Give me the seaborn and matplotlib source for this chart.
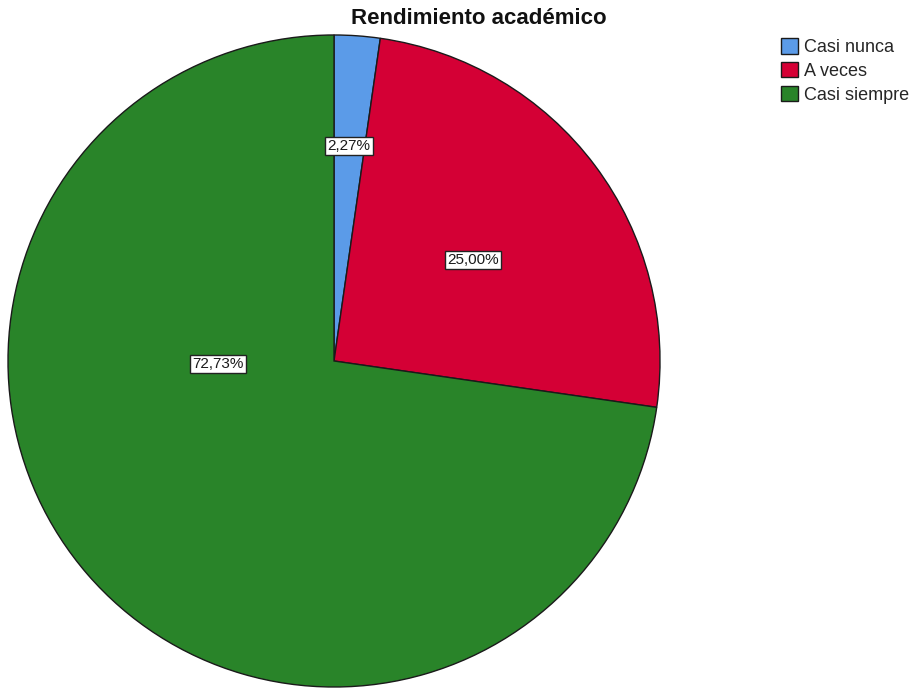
import numpy as np
import seaborn as sns
import matplotlib.pyplot as plt

categories = ['Casi nunca', 'A veces', 'Casi siempre']
values = [2.27, 25.00, 72.73]
colors = ['#5b9be8', '#d40035', '#298429']
# label spots in data coords (pie radius = 1)
label_pos = [(0.046, 0.66), (0.426, 0.31), (-0.356, -0.009)]

sns.set_theme(style='white')
plt.rcParams['font.family'] = ['Liberation Sans', 'DejaVu Sans']

fig = plt.figure(figsize=(9.15, 6.88), dpi=100)
ax = fig.add_axes([0.00874, 0.00145, 0.7126, 0.9477])

wedges, _ = ax.pie(values, colors=colors, startangle=90, counterclock=False,
                   wedgeprops={'edgecolor': '#1a1a1a', 'linewidth': 1.0})
ax.set_xlim(-1, 1)
ax.set_ylim(-1, 1)
ax.set_aspect('auto')

for v, (x, y) in zip(values, label_pos):
    ax.text(x, y, f'{v:.2f}%'.replace('.', ','), ha='center', va='center',
            fontsize=11, color='#1a1a1a',
            bbox=dict(boxstyle='square,pad=0.15', facecolor='white',
                      edgecolor='#222222', linewidth=1.0))

fig.text(479 / 915, 1 - 18 / 688, 'Rendimiento académico', ha='center',
         va='center', fontsize=16, fontweight='bold', color='#111111')

fig.legend(wedges, categories, loc='upper left',
           bbox_to_anchor=(781 / 915, 1 - 38 / 688), frameon=False,
           fontsize=13, handlelength=0.95, handleheight=0.95,
           handletextpad=0.35, labelspacing=0.32, borderpad=0,
           borderaxespad=0)

fig.savefig('out.png', dpi=100)
